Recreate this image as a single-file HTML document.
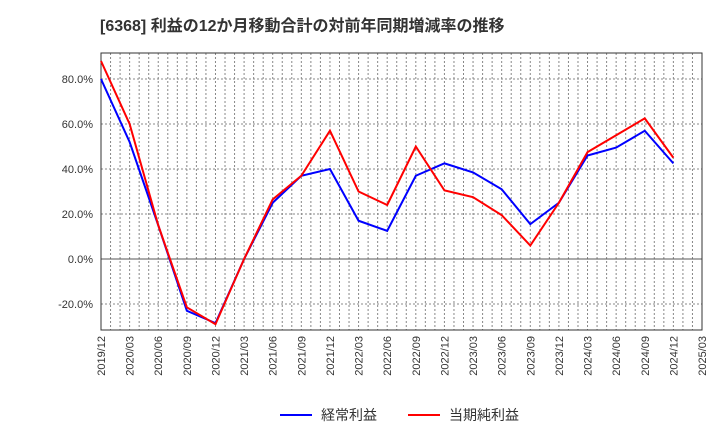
<!DOCTYPE html>
<html><head><meta charset="utf-8"><style>
body{margin:0;background:#fff;font-family:"Liberation Sans","Noto Sans CJK JP",sans-serif;}
svg text{font-family:"Liberation Sans","Noto Sans CJK JP",sans-serif;}
</style></head><body>
<svg id="c" width="720" height="440" xmlns="http://www.w3.org/2000/svg">
<text x="100" y="31" font-size="16" font-weight="bold" fill="#333">[6368]  利益の12か月移動合計の対前年同期増減率の推移</text>
<g id="grid"></g><g id="axes"></g><g id="series"></g>
<g>
<line x1="280" y1="415" x2="312" y2="415" stroke="#0000ff" stroke-width="2"/>
<text x="321" y="420" font-size="14" fill="#333">経常利益</text>
<line x1="408" y1="415" x2="440" y2="415" stroke="#ff0000" stroke-width="2"/>
<text x="449" y="420" font-size="14" fill="#333">当期純利益</text>
</g>
</svg>
<script>
const tickLabels=["2019/12","2020/03","2020/06","2020/09","2020/12","2021/03","2021/06","2021/09","2021/12","2022/03","2022/06","2022/09","2022/12","2023/03","2023/06","2023/09","2023/12","2024/03","2024/06","2024/09","2024/12","2025/03"];
const yTicks=[-20,0,20,40,60,80];
const keijo=[80,52,15,-23,-28.5,0,25,37,40,17,12.5,37,42.5,38.5,31,15.5,25,46,49.5,57,42.5];
const junrieki=[88,60,15,-21.5,-29,0,26.5,37,57,30,24,50,30.5,27.5,19.5,6,25,47.5,55,62.5,45];
const NS="http://www.w3.org/2000/svg";
const L=101,R=702,T=53,B=330;
const x=i=>L+(R-L)*i/21;
const y=v=>259-v*2.25;
function mk(t,a,p){const e=document.createElementNS(NS,t);for(const k in a)e.setAttribute(k,a[k]);p.appendChild(e);return e;}
const g=document.getElementById('grid'),ax=document.getElementById('axes'),s=document.getElementById('series');
for(let m=1;m<63;m++){const xx=L+(R-L)*m/63;
const l=mk('line',{x1:xx,y1:T,x2:xx,y2:B,stroke:'#888','stroke-dasharray':'2,2','stroke-width':1},g);

}
yTicks.forEach(v=>{const l=mk('line',{x1:L,y1:y(v),x2:R,y2:y(v),stroke:v===0?'#555':'#888','stroke-dasharray':v===0?'none':'2,2','stroke-width':1},g);


const t=mk('text',{x:L-8,y:y(v)+4,'text-anchor':'end','font-size':11,fill:'#333'},ax);t.textContent=v.toFixed(1)+'%';

});
const fr=mk('rect',{x:L,y:T,width:R-L,height:B-T,fill:'none',stroke:'#333'},ax);


tickLabels.forEach((lb,i)=>{const t=mk('text',{transform:`translate(${x(i)+4},${B+6}) rotate(-90)`,'text-anchor':'end','font-size':11,fill:'#333'},ax);t.textContent=lb;

});
function line(d,c,n){const p=mk('polyline',{points:d.map((v,i)=>x(i)+','+y(v)).join(' '),fill:'none',stroke:c,'stroke-width':2},s);

}
line(keijo,'#0000ff','keijo-line');
line(junrieki,'#ff0000','junrieki-line');
</script>
</body></html>
